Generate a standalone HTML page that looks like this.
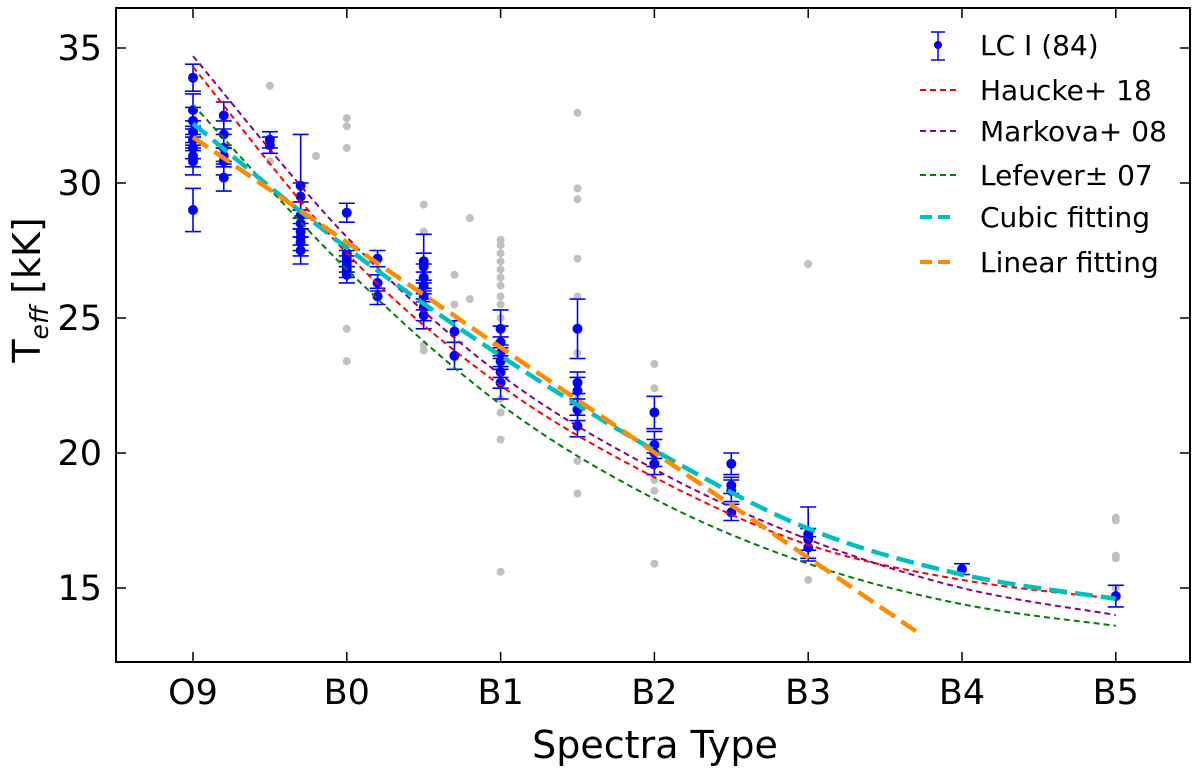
<!DOCTYPE html>
<html><head><meta charset="utf-8">
<style>
body{margin:0;background:#fff;}
svg{display:block;font-family:"DejaVu Sans","Liberation Sans",sans-serif;}
</style></head>
<body>
<svg id="chart" width="1200" height="771"></svg>
<script>
// ---- data ----
const xTickLabels = ["O9","B0","B1","B2","B3","B4","B5"];
const yTicks = [15,20,25,30,35];
const lcX = [0,0,0,0,0,0,0,0,0, 0.2,0.2,0.2,0.2,0.2,0.2, 0.5,0.5, 0.7,0.7,0.7,0.7,0.7,0.7,0.7,0.7, 1,1,1,1,1,1, 1.2,1.2,1.2, 1.5,1.5,1.5,1.5,1.5,1.5,1.5, 1.7,1.7, 2,2,2,2,2,2, 2.5,2.5,2.5,2.5,2.5, 3,3,3,3, 3.5,3.5,3.5,3.5, 4,4,4, 5, 6];
const lcY = [33.9,32.7,32.3,31.9,31.6,31.3,31.0,30.8,29.0, 32.5,31.8,31.3,31.0,30.8,30.2, 31.6,31.4, 29.9,29.5,28.8,28.5,28.2,28.0,27.8,27.5, 28.9,27.4,27.2,27.0,26.8,26.6, 27.2,26.3,25.8, 27.1,26.9,26.5,26.2,25.8,25.4,25.1, 24.5,23.6, 24.6,24.1,23.7,23.4,23.0,22.6, 24.6,22.6,22.3,21.6,21.0, 21.5,20.3,20.0,19.6, 19.6,18.8,18.6,17.8, 17.0,16.8,16.5, 15.7, 14.7];
const lcErr = [0.5,0.6,0.5,0.4,0.4,0.4,0.4,0.5,0.8, 0.5,0.5,0.5,0.4,0.5,0.5, 0.3,0.3, 1.9,0.5,0.5,0.5,0.5,0.5,0.5,0.5, 0.35,0.3,0.3,0.3,0.3,0.3, 0.3,0.3,0.3, 1.0,0.5,0.5,0.5,0.5,0.5,0.5, 0.4,0.5, 0.7,0.6,0.6,0.6,0.6,0.6, 1.1,0.4,0.5,0.4,0.4, 0.6,0.5,0.5,0.4, 0.4,0.3,0.4,0.3, 1.0,0.4,0.4, 0.2, 0.4];
const grayX = [0.5,0.5, 0.8, 1,1,1,1,1, 1.5,1.5,1.5,1.5, 1.7,1.7, 1.8,1.8, 2,2,2,2,2,2,2,2,2,2,2,2,2,2, 2.5,2.5,2.5,2.5,2.5,2.5,2.5,2.5,2.5, 3,3,3,3,3, 4,4, 6,6,6,6,6];
const grayY = [33.6,30.8, 31.0, 32.4,32.1,31.3,24.6,23.4, 29.2,28.2,24.0,23.8, 26.6,25.5, 28.7,25.7, 27.9,27.7,27.4,27.1,26.8,26.5,26.2,25.8,25.5,25.0,22.0,21.5,20.5,15.6, 32.6,29.8,29.4,27.2,25.8,23.7,22.0,19.7,18.5, 23.3,22.4,19.0,18.6,15.9, 27.0,15.3, 17.6,17.5,16.2,16.1,15.0];
const curveX = [0,1,2,3,4,5,6];
const hauckeY  = [34.3,27.4,22.5,19.1,16.6,15.3,14.6];
const markovaY = [34.7,28.0,22.9,19.4,16.8,15.0,14.0];
const lefeverY = [32.9,26.8,21.8,18.3,15.9,14.4,13.6];
const cubicY   = [32.2,27.6,23.6,20.1,17.2,15.5,14.6];
const linearX = [0,4.7];
const linearY = [31.7,13.4];

// ---- axes ----
const L=116,R=1190,T=8,B=662;
const X=v=>193+v*153.8;
const Y=v=>588-(v-15)*27;
const NS="http://www.w3.org/2000/svg";
const svg=document.getElementById('chart');
function mk(tag,attrs,parent){const e=document.createElementNS(NS,tag);for(const k in attrs)e.setAttribute(k,attrs[k]);(parent||svg).appendChild(e);return e;}

const clipDef=mk('defs',{});
const cp=mk('clipPath',{id:'clip'},clipDef);mk('rect',{x:L,y:T,width:R-L,height:B-T},cp);
const plot=mk('g',{'clip-path':'url(#clip)'});



grayX.forEach((x,i)=>{const c=mk('circle',{cx:X(x),cy:Y(grayY[i]),r:4,fill:'#c0c0c0'},plot);

});

function smoothPath(xs,ys){
  const p=xs.map((x,i)=>[X(x),Y(ys[i])]);
  let d=`M${p[0][0]},${p[0][1]}`;
  for(let i=0;i<p.length-1;i++){
    const p0=p[Math.max(0,i-1)],p1=p[i],p2=p[i+1],p3=p[Math.min(p.length-1,i+2)];
    const c1=[p1[0]+(p2[0]-p0[0])/6,p1[1]+(p2[1]-p0[1])/6];
    const c2=[p2[0]-(p3[0]-p1[0])/6,p2[1]-(p3[1]-p1[1])/6];
    d+=` C${c1[0]},${c1[1]} ${c2[0]},${c2[1]} ${p2[0]},${p2[1]}`;
  }
  return d;
}
const curves=[
 [hauckeY,'#ff0000',2,'6,4','haucke-18-line'],
 [markovaY,'#8b008b',2,'6,4','markova-08-line'],
 [lefeverY,'#008000',2,'6,4','lefever-07-line'],
];
lcX.forEach((x,i)=>{
  const g=mk('g',{stroke:'#0000ff','stroke-width':1.6,fill:'#0000ff'},plot);
  
  
  const cx=X(x),y0=Y(lcY[i]-lcErr[i]),y1=Y(lcY[i]+lcErr[i]);
  mk('line',{x1:cx,x2:cx,y1:y0,y2:y1},g);
  mk('line',{x1:cx-8,x2:cx+8,y1:y0,y2:y0},g);
  mk('line',{x1:cx-8,x2:cx+8,y1:y1,y2:y1},g);
  mk('circle',{cx:cx,cy:Y(lcY[i]),r:5,stroke:'none'},g);
});
curves.forEach(c=>{const p=mk('path',{d:smoothPath(curveX,c[0]),fill:'none',stroke:c[1],'stroke-width':c[2],'stroke-dasharray':c[3]},plot);

});
const cub=mk('path',{d:smoothPath(curveX,cubicY),fill:'none',stroke:'#00bfbf','stroke-width':4.5,'stroke-dasharray':'18,8'},plot);


const lin=mk('line',{x1:X(linearX[0]),y1:Y(linearY[0]),x2:X(linearX[1]),y2:Y(linearY[1]),stroke:'#ff8c00','stroke-width':4.5,'stroke-dasharray':'18,8'},plot);



const fr=mk('rect',{x:L,y:T,width:R-L,height:B-T,fill:'none',stroke:'#000','stroke-width':2});


xTickLabels.forEach((t,i)=>{
  const x=X(i);
  mk('line',{x1:x,x2:x,y1:B,y2:B-10,stroke:'#000','stroke-width':1.5});
  mk('line',{x1:x,x2:x,y1:T,y2:T+10,stroke:'#000','stroke-width':1.5});
  const tx=mk('text',{x:x,y:B+42,'font-size':35,'text-anchor':'middle'});tx.textContent=t;
  
  
});
yTicks.forEach(v=>{
  const y=Y(v);
  mk('line',{x1:L,x2:L+10,y1:y,y2:y,stroke:'#000','stroke-width':1.5});
  mk('line',{x1:R,x2:R-10,y1:y,y2:y,stroke:'#000','stroke-width':1.5});
  const tx=mk('text',{x:L-14,y:y+12,'font-size':35,'text-anchor':'end'});tx.textContent=v;
  
  
});
const xt=mk('text',{x:655,y:758,'font-size':38,'text-anchor':'middle'});xt.textContent='Spectra Type';


const yt=mk('text',{transform:'translate(40,290) rotate(-90)','font-size':38,'text-anchor':'middle'});
yt.innerHTML='T<tspan font-size="25" font-style="italic" dy="8">eff</tspan><tspan dy="-8"> [kK]</tspan>';



const leg=mk('g',{});


const li=mk('g',{stroke:'#0000ff','stroke-width':1.5,fill:'#0000ff'},leg);
mk('line',{x1:938,x2:938,y1:32,y2:60},li);mk('line',{x1:931,x2:945,y1:32,y2:32},li);mk('line',{x1:931,x2:945,y1:60,y2:60},li);
mk('circle',{cx:938,cy:45,r:4,stroke:'none'},li);
const items=[['LC I (84)',45,null],['Haucke+ 18',90,['#ff0000',2,'6,4']],['Markova+ 08',131,['#8b008b',2,'6,4']],['Lefever± 07',175,['#008000',2,'6,4']],['Cubic fitting',217,['#00bfbf',4,'12,6']],['Linear fitting',262,['#ff8c00',4,'12,6']]];
items.forEach(it=>{
  if(it[2]) mk('line',{x1:920,x2:956,y1:it[1],y2:it[1],stroke:it[2][0],'stroke-width':it[2][1],'stroke-dasharray':it[2][2]},leg);
  const tx=mk('text',{x:980,y:it[1]+10,'font-size':28},leg);tx.textContent=it[0];
  
  
});
</script>
</body></html>
